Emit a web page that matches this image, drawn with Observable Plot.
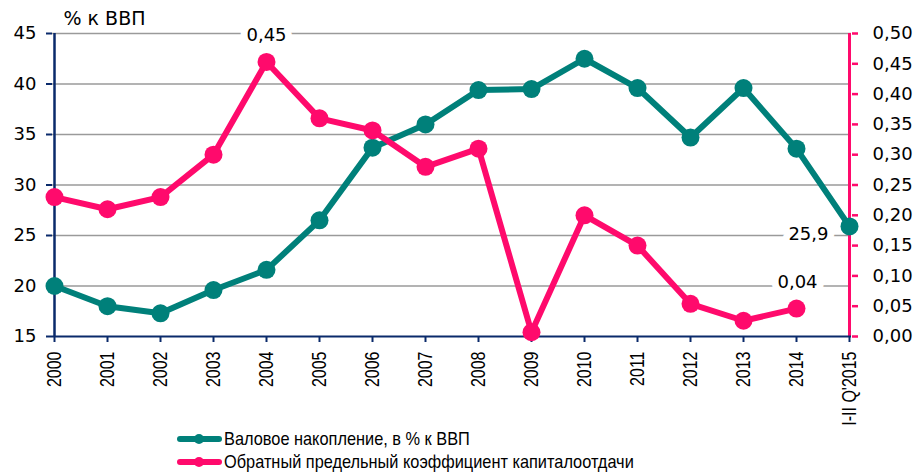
<!DOCTYPE html>
<html>
<head>
<meta charset="utf-8">
<script src="https://cdn.jsdelivr.net/npm/d3@7"></script>
<script src="https://cdn.jsdelivr.net/npm/@observablehq/plot@0.6"></script>
<style>
  html, body { margin: 0; padding: 0; background: #fff; }
  #wrap { width: 916px; position: relative; }
  .legend { position: relative; height: 47px; font-family: "Liberation Sans", Arial, sans-serif; font-size: 19px; color: #000; }
  .legend .row { position: absolute; left: 177px; display: flex; align-items: center; height: 22px; white-space: nowrap; }
  .legend .sw { width: 45px; height: 22px; position: relative; margin-right: 2px; flex: none; }
  .legend .sw .ln { position: absolute; left: 0; right: 0; top: 8px; height: 6px; border-radius: 3px; }
  .legend .sw .dt { position: absolute; left: 17px; top: 6px; width: 10px; height: 10px; border-radius: 5px; }
  .legend .tx { display: inline-block; transform: scaleX(0.86); transform-origin: left center; }
</style>
</head>
<body>
<div id="wrap"></div>
<script>
const categories = ["2000","2001","2002","2003","2004","2005","2006","2007","2008","2009","2010","2011","2012","2013","2014","I-II Q'2015"];
const accumulation = [20.0, 18.0, 17.3, 19.6, 21.6, 26.5, 33.7, 36.0, 39.4, 39.5, 42.5, 39.6, 34.7, 39.6, 33.6, 25.9];
const capitalRatio = [0.23, 0.21, 0.23, 0.30, 0.453, 0.36, 0.34, 0.28, 0.31, 0.007, 0.20, 0.15, 0.054, 0.026, 0.046, null];
const leftTicks = [15, 20, 25, 30, 35, 40, 45];
const rightTicks = [0, 0.05, 0.10, 0.15, 0.20, 0.25, 0.30, 0.35, 0.40, 0.45, 0.50];
const seriesNames = ["Валовое накопление, в % к ВВП", "Обратный предельный коэффициент капиталоотдачи"];
const annotations = [
  {series: "ratio", cat: "2004", text: "0,45"},
  {series: "acc", cat: "I-II Q'2015", text: "25,9"},
  {series: "ratio", cat: "2014", text: "0,04"}
];

const teal = "#00807A";
const pink = "#FF0A6C";
const navy = "#0A2A6B";

// map right-axis values onto left scale
const toLeft = v => 15 + v * 60;
const fmt2 = v => v.toFixed(2).replace(".", ",");

const accData = categories.map((c, i) => ({cat: c, v: accumulation[i]}));
const ratioData = categories.map((c, i) => ({cat: c, v: capitalRatio[i]})).filter(d => d.v != null);
const annData = annotations.map(a => {
  const i = categories.indexOf(a.cat);
  const y = a.series === "acc" ? accumulation[i] : toLeft(capitalRatio[i]);
  return {...a, y};
});

const yFont = "DejaVu Sans, Verdana, sans-serif";
const halo = {fontSize: 18, fill: "#000", stroke: "#fff", strokeWidth: 14, paintOrder: "stroke"};

const chart = Plot.plot({
  width: 916,
  height: 425,
  marginLeft: 52,
  marginRight: 65,
  marginTop: 33,
  marginBottom: 89,
  style: {fontFamily: yFont, background: "#fff"},
  x: {type: "point", domain: categories, padding: 0},
  y: {domain: [15, 45]},
  marks: [
    Plot.ruleY(leftTicks.filter(t => t > 15), {stroke: "#9a9a9a", strokeWidth: 1.6}),
    Plot.axisY({ticks: leftTicks, tickSize: 6, stroke: navy, strokeWidth: 2, tickPadding: 10, fontSize: 18, color: "#000", label: null, tickFormat: d => d}),
    Plot.axisY({anchor: "right", ticks: rightTicks.map(toLeft), tickSize: 6, stroke: pink, strokeWidth: 2.5, tickPadding: 15, fontSize: 18, color: "#000", label: null, tickFormat: d => fmt2((d - 15) / 60)}),
    Plot.axisX({ticks: categories, tickSize: 6, stroke: navy, strokeWidth: 2, tickRotate: -90, tickPadding: 9, fontSize: 16, fontFamily: "Liberation Sans, Arial, sans-serif", color: "#000", label: null}),
    Plot.ruleX([categories[0]], {stroke: navy, strokeWidth: 2.5}),
    Plot.ruleX([categories[categories.length - 1]], {stroke: pink, strokeWidth: 3}),
    Plot.ruleY([15], {stroke: navy, strokeWidth: 2}),
    Plot.line(accData, {x: "cat", y: "v", stroke: teal, strokeWidth: 6}),
    Plot.dot(accData, {x: "cat", y: "v", fill: teal, r: 9}),
    Plot.line(ratioData, {x: "cat", y: d => toLeft(d.v), stroke: pink, strokeWidth: 6}),
    Plot.dot(ratioData, {x: "cat", y: d => toLeft(d.v), fill: pink, r: 9}),
    Plot.text(annData.filter(d => d.text === "0,45"), {x: "cat", y: "y", text: "text", dy: -27, ...halo}),
    Plot.text(annData.filter(d => d.text === "0,04"), {x: "cat", y: "y", text: "text", dy: -26, dx: 1, ...halo}),
    Plot.text(annData.filter(d => d.text === "25,9"), {x: "cat", y: "y", text: "text", dy: 8, dx: -21, textAnchor: "end", ...halo}),
    Plot.text(["% к ВВП"], {frameAnchor: "top-left", text: d => d, dx: 11, dy: -22, fontSize: 19, fill: "#000"})
  ]
});

// widen rotated x tick labels (glyph height) to match the reference's look
d3.select(chart).selectAll("g[aria-label='x-axis tick label'] text").each(function () {
  const t = this.getAttribute("transform") || "";
  this.setAttribute("transform", t + " scale(1,1.25)");
});

const wrap = document.getElementById("wrap");
wrap.appendChild(chart);

const legend = document.createElement("div");
legend.className = "legend";
const colors = [teal, pink];
seriesNames.forEach((name, i) => {
  const row = document.createElement("div");
  row.className = "row";
  row.style.top = (i === 0 ? 3 : 26) + "px";
  row.innerHTML = `<div class="sw"><div class="ln" style="background:${colors[i]}"></div><div class="dt" style="background:${colors[i]}"></div></div><span class="tx">${name}</span>`;
  legend.appendChild(row);
});
wrap.appendChild(legend);
</script>
</body>
</html>
